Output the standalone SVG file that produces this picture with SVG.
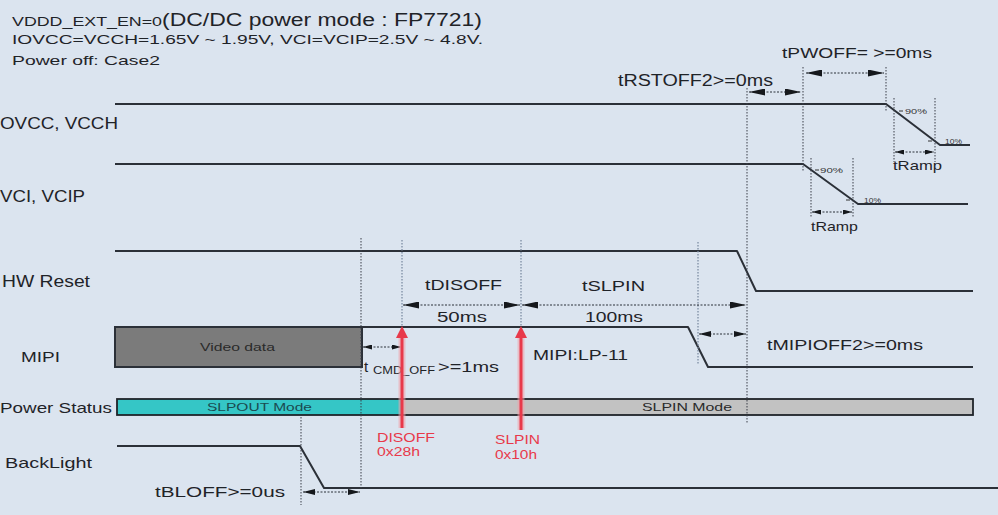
<svg xmlns="http://www.w3.org/2000/svg" width="998" height="515" viewBox="0 0 998 515">
<style>
text{font-family:"Liberation Sans",Arial,sans-serif;fill:#1f2328}
.sig{fill:none;stroke:#2b3038;stroke-width:2;stroke-linejoin:round}
.dot{fill:none;stroke:#3a3f48;stroke-width:1;stroke-dasharray:1.5 1.5}
.dotl{fill:none;stroke:#7d8da3;stroke-width:1.3;stroke-dasharray:1.5 1.5}
.shaft{fill:none;stroke:#2b3038;stroke-width:1;stroke-dasharray:2 1.5}
.al{marker-start:url(#ahL);marker-end:url(#ahL)}
.am{marker-start:url(#ahM);marker-end:url(#ahM)}
.as{marker-start:url(#ahS);marker-end:url(#ahS)}
.head{fill:#15181c;stroke:none}
.t16{font-size:16px}
.t15{font-size:15px}
.t14{font-size:14px}
.t13{font-size:13px}
.t11{font-size:11px}
.pct{font-size:7px;fill:#333}
.tick{stroke:#333;stroke-width:1}
.redtxt{fill:#e8394a;font-size:13.5px}
.glow{stroke:#f2a0a8;stroke-width:7;opacity:0.55}
.redline{stroke:#e8394a;stroke-width:3}
.red{fill:#e8394a}
</style>
<defs>
<marker id="ahL" viewBox="0 0 10 10" refX="10" refY="5" markerUnits="userSpaceOnUse" markerWidth="16" markerHeight="7" orient="auto-start-reverse" preserveAspectRatio="none"><path class="head" d="M0,0 L10,5 L0,10 z"/></marker>
<marker id="ahM" viewBox="0 0 10 10" refX="10" refY="5" markerUnits="userSpaceOnUse" markerWidth="12" markerHeight="6" orient="auto-start-reverse" preserveAspectRatio="none"><path class="head" d="M0,0 L10,5 L0,10 z"/></marker>
<marker id="ahS" viewBox="0 0 10 10" refX="10" refY="5" markerUnits="userSpaceOnUse" markerWidth="9" markerHeight="5" orient="auto-start-reverse" preserveAspectRatio="none"><path class="head" d="M0,0 L10,5 L0,10 z"/></marker>
</defs>
<rect x="0" y="0" width="998" height="515" fill="#dbe4ef"/>

<g id="header">
<text x="12" y="26" style="font-size:12.5px" textLength="150" lengthAdjust="spacingAndGlyphs">VDDD_EXT_EN=0</text>
<text x="162" y="26" style="font-size:18px" textLength="320" lengthAdjust="spacingAndGlyphs">(DC/DC power mode : FP7721)</text>
<text x="12" y="44" style="font-size:13.5px" textLength="471" lengthAdjust="spacingAndGlyphs">IOVCC=VCCH=1.65V ~ 1.95V, VCI=VCIP=2.5V ~ 4.8V.</text>
<text x="12" y="65" style="font-size:13.5px" textLength="148" lengthAdjust="spacingAndGlyphs">Power off: Case2</text>
</g>

<g id="sig-iovcc">
<text x="0" y="129" class="t16" textLength="118" lengthAdjust="spacingAndGlyphs">OVCC, VCCH</text>
<polyline class="sig" points="115,104 886,104 940,145 970,145"/>
<line class="tick" x1="899" y1="111" x2="903" y2="111"/>
<text x="905" y="113.5" class="pct" textLength="22" lengthAdjust="spacingAndGlyphs">90%</text>
<line class="tick" x1="928" y1="141" x2="932" y2="141"/>
<text x="945" y="143.5" class="pct" textLength="17" lengthAdjust="spacingAndGlyphs">10%</text>
</g>

<g id="sig-vci">
<text x="0" y="202" class="t16" textLength="85" lengthAdjust="spacingAndGlyphs">VCI, VCIP</text>
<polyline class="sig" points="115,164 803,164 858,204 968,204"/>
<line class="tick" x1="815" y1="170" x2="819" y2="170"/>
<text x="820" y="172.5" class="pct" textLength="23" lengthAdjust="spacingAndGlyphs">90%</text>
<line class="tick" x1="846" y1="200" x2="850" y2="200"/>
<text x="864" y="202.5" class="pct" textLength="17" lengthAdjust="spacingAndGlyphs">10%</text>
</g>

<g id="sig-hwreset">
<text x="2" y="287" class="t16" textLength="88" lengthAdjust="spacingAndGlyphs">HW Reset</text>
<polyline class="sig" points="115,251 737,251 756,291 973,291"/>
</g>

<g id="sig-mipi">
<text x="21" y="362" class="t15" textLength="39" lengthAdjust="spacingAndGlyphs">MIPI</text>
<rect x="115" y="327" width="247" height="40" fill="#7b7b7b" stroke="#2b3038" stroke-width="2"/>
<text x="200" y="351" class="t11" textLength="75" lengthAdjust="spacingAndGlyphs" style="fill:#2a2a2a">Video data</text>
<polyline class="sig" points="362,327 688,327 708,367 973,367"/>
</g>

<g id="sig-power">
<text x="0" y="413" class="t15" textLength="112" lengthAdjust="spacingAndGlyphs">Power Status</text>
<rect x="117" y="399" width="285" height="16" fill="#35c6c6"/>
<rect x="402" y="399" width="571" height="16" fill="#c2c2c2"/>
<rect x="117" y="399" width="856" height="16" fill="none" stroke="#1f2328" stroke-width="1.8"/>
<text x="207" y="411" class="t11" textLength="105" lengthAdjust="spacingAndGlyphs" style="fill:#1b4a50">SLPOUT Mode</text>
<text x="642" y="411" class="t11" textLength="90" lengthAdjust="spacingAndGlyphs" style="fill:#2a2a2a">SLPIN Mode</text>
</g>

<g id="sig-backlight">
<text x="5" y="468" class="t15" textLength="87" lengthAdjust="spacingAndGlyphs">BackLight</text>
<polyline class="sig" points="117,446 300,446 324,488 998,488"/>
</g>

<g id="connectors">
<line class="dot" x1="361" y1="238" x2="361" y2="488"/>
<line class="dotl" x1="402" y1="240" x2="402" y2="327"/>
<line class="dotl" x1="521" y1="240" x2="521" y2="327"/>
<line class="dotl" x1="698" y1="242" x2="698" y2="365"/>
<line class="dot" x1="747" y1="88" x2="747" y2="424"/>
<line class="dot" x1="803" y1="67" x2="803" y2="172"/>
<line class="dot" x1="886" y1="67" x2="886" y2="112"/>
<line class="dot" x1="894" y1="98" x2="894" y2="162"/>
<line class="dot" x1="935" y1="98" x2="935" y2="162"/>
<line class="dot" x1="811" y1="158" x2="811" y2="217"/>
<line class="dot" x1="853" y1="158" x2="853" y2="217"/>
<line class="dot" x1="301" y1="417" x2="301" y2="505"/>

<line class="shaft al" x1="749" y1="92" x2="801" y2="92"/>
<line class="shaft al" x1="806" y1="73" x2="884" y2="73"/>
<line class="shaft al" x1="403" y1="305" x2="520" y2="305"/>
<line class="shaft al" x1="522" y1="305" x2="746" y2="305"/>
<line class="shaft am" x1="699" y1="334" x2="746" y2="334"/>
<line class="shaft as" x1="363" y1="347" x2="401" y2="347"/>
<line class="shaft am" x1="303" y1="492" x2="360" y2="492"/>
<line class="shaft as" x1="895" y1="152" x2="934" y2="152"/>
<line class="shaft as" x1="812" y1="212" x2="852" y2="212"/>
</g>

<g id="timing-labels">
<text x="618" y="86" class="t16" textLength="155" lengthAdjust="spacingAndGlyphs">tRSTOFF2&gt;=0ms</text>
<text x="782" y="58" class="t14" textLength="150" lengthAdjust="spacingAndGlyphs">tPWOFF= &gt;=0ms</text>
<text x="893" y="170" class="t13" textLength="49" lengthAdjust="spacingAndGlyphs">tRamp</text>
<text x="811" y="231" class="t13" textLength="47" lengthAdjust="spacingAndGlyphs">tRamp</text>
<text x="425" y="290" class="t15" textLength="77" lengthAdjust="spacingAndGlyphs">tDISOFF</text>
<text x="437" y="322" class="t15" textLength="50" lengthAdjust="spacingAndGlyphs">50ms</text>
<text x="582" y="291" class="t15" textLength="63" lengthAdjust="spacingAndGlyphs">tSLPIN</text>
<text x="585" y="322" class="t15" textLength="58" lengthAdjust="spacingAndGlyphs">100ms</text>
<text x="533" y="360" class="t14" textLength="95" lengthAdjust="spacingAndGlyphs">MIPI:LP-11</text>
<text x="767" y="350" class="t15" textLength="156" lengthAdjust="spacingAndGlyphs">tMIPIOFF2&gt;=0ms</text>
<text x="364" y="372" class="t15">t</text>
<text x="373" y="374" style="font-size:10px" textLength="62" lengthAdjust="spacingAndGlyphs">CMD_OFF</text>
<text x="438" y="372" class="t15" textLength="61" lengthAdjust="spacingAndGlyphs">&gt;=1ms</text>
<text x="155" y="497" class="t14" textLength="130" lengthAdjust="spacingAndGlyphs">tBLOFF&gt;=0us</text>
</g>

<g id="cmd-disoff">
<line class="glow" x1="402" y1="428" x2="402" y2="336"/>
<line class="redline" x1="402" y1="428" x2="402" y2="336"/>
<polygon class="red" points="396,338 402,326 408,338"/>
<text x="377" y="442" class="redtxt" textLength="58" lengthAdjust="spacingAndGlyphs">DISOFF</text>
<text x="377" y="456" class="redtxt" textLength="43" lengthAdjust="spacingAndGlyphs">0x28h</text>
</g>

<g id="cmd-slpin">
<line class="glow" x1="521" y1="430" x2="521" y2="336"/>
<line class="redline" x1="521" y1="430" x2="521" y2="336"/>
<polygon class="red" points="515,338 521,326 527,338"/>
<text x="495" y="444" class="redtxt" textLength="45" lengthAdjust="spacingAndGlyphs">SLPIN</text>
<text x="495" y="459" class="redtxt" textLength="42" lengthAdjust="spacingAndGlyphs">0x10h</text>
</g>
</svg>
